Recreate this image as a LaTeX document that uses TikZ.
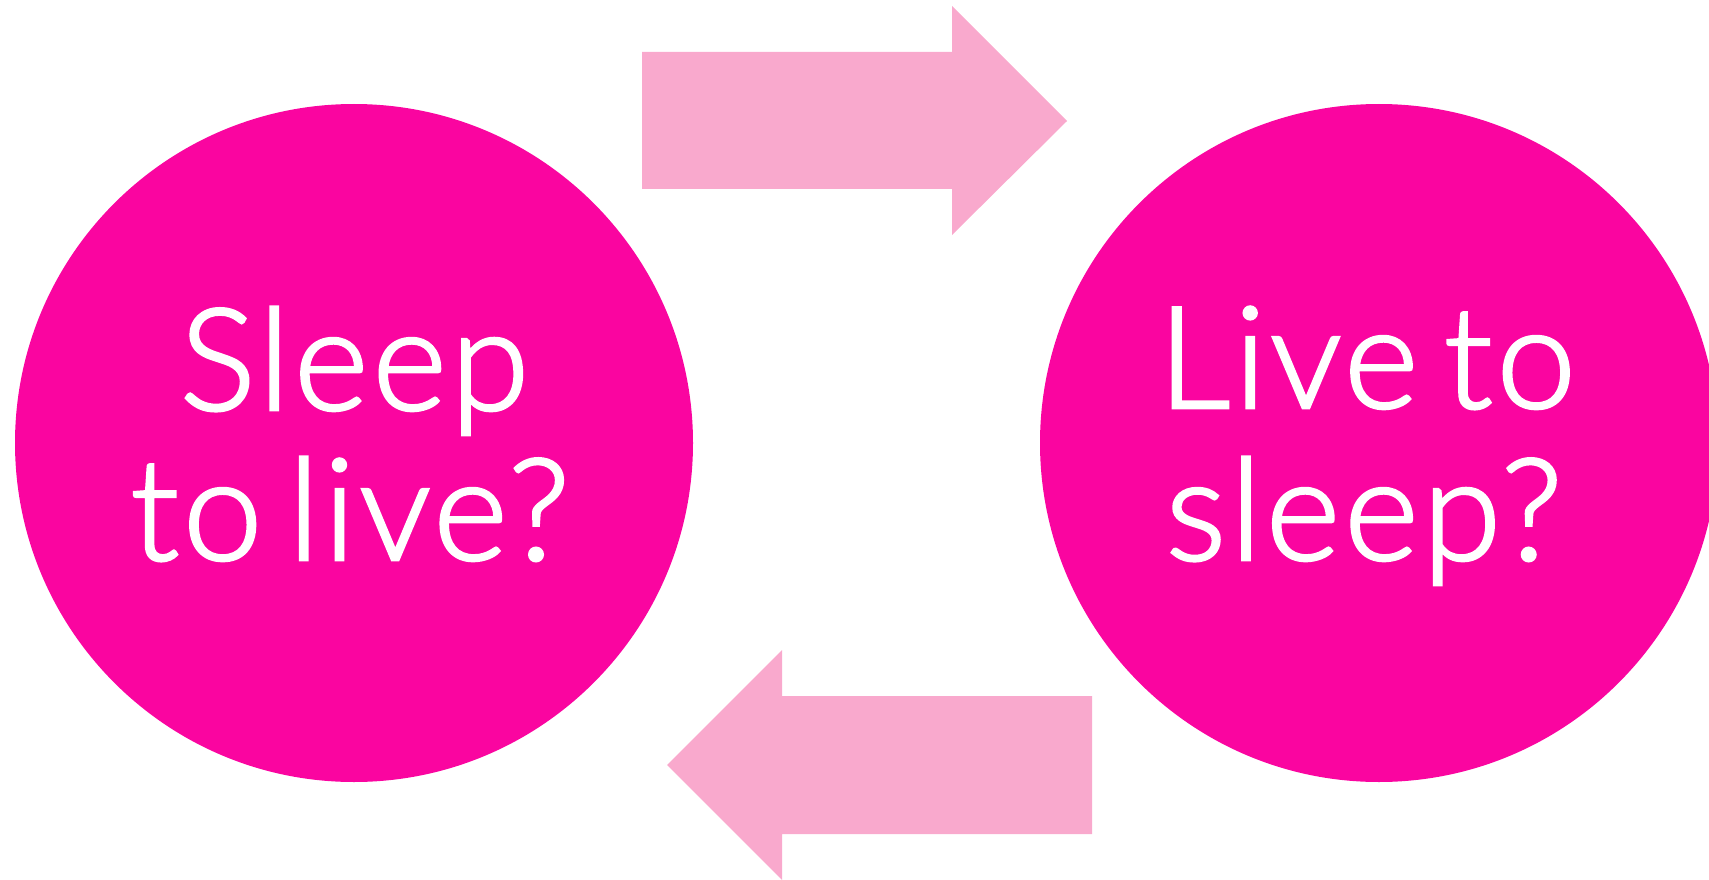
\documentclass[tikz,border=0pt]{standalone}
\usepackage{fontspec}
\setmainfont{Lato}[UprightFont={* Light},FakeBold=2,LetterSpace=3,WordSpace=0.6]
\definecolor{magentab}{HTML}{FA05A0}
\definecolor{pinka}{HTML}{F9A9CD}
\begin{document}
\begin{tikzpicture}[x=1pt,y=-1pt,
  bubble/.style={circle,fill=magentab,draw=none,inner sep=0pt,minimum size=678pt},
  arrowshape/.style={fill=pinka,draw=none},
  label/.style={anchor=base,text=white,inner sep=0pt,font=\fontsize{142}{150}\selectfont}]
\useasboundingbox (0,0) rectangle (1709,880);
\clip (0,0) rectangle (1709,880);
\node[bubble] (left) at (354,443) {};
\node[bubble] (right) at (1379,443) {};
\fill[arrowshape] (642,52) -- (952,52) -- (952,6) -- (1067,121) -- (952,235) -- (952,189) -- (642,189) -- cycle;
\fill[arrowshape] (1092,696) -- (782,696) -- (782,650) -- (667,765) -- (782,880) -- (782,834) -- (1092,834) -- cycle;
\node[label] (l1) at (354.5,410) {Sleep};
\node[label] (l2) at (350,560) {to live?};
\node[label] (r1) at (1367,408) {Live to};
\node[label] (r2) at (1364,560) {sleep?};
\end{tikzpicture}
\end{document}
